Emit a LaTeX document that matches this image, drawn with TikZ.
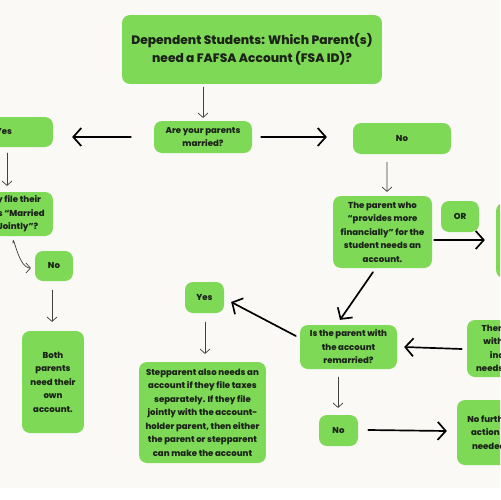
\documentclass[tikz,border=0pt]{standalone}
\usepackage{fontspec}
\setmainfont{Poppins}[BoldFont = {Poppins ExtraBold}]
\usetikzlibrary{arrows.meta,calc,positioning}
\definecolor{boxgreen}{HTML}{7ED957}
\definecolor{paper}{HTML}{FAF9F6}
\definecolor{ink}{HTML}{1C2418}

\begin{document}
\begin{tikzpicture}[x = 0.05cm, y = -0.05cm, line cap = round]
    \tikzstyle{block} = [fill = boxgreen, rounded corners = 0.4cm, align = center, inner sep = 0pt, text = ink, font = \bfseries\fontsize{12.2}{19.2}\selectfont]
    \tikzstyle{headline} = [block, font = \bfseries\fontsize{17.4}{25.5}\selectfont]
    \tikzstyle{lightarrow} = [draw = black!75, line width = 1pt, -{Straight Barb[length = 0.22cm, width = 0.5cm]}]
    \tikzstyle{heavyarrow} = [draw = black, line width = 2.4pt, -{Straight Barb[length = 0.4cm, width = 0.9cm]}]

    \useasboundingbox (0,0) rectangle (500,500);
    \clip (0,0) rectangle (500,500);
    \fill[white] (0,0) rectangle (500,500);
    \fill[paper] (0,0) rectangle (500,488);

    \node[headline, minimum width = 13cm, minimum height = 3.45cm] (question) at (252,49.5) {Dependent Students: Which Parent(s)\\need a FAFSA Account (FSA ID)?};
    \node[block, minimum width = 4.9cm, minimum height = 1.6cm] (married) at (203,137) {Are your parents\\married?};
    \node[block, minimum width = 4.9cm, minimum height = 1.5cm] (yes) at (4,132) {Yes};
    \node[block, minimum width = 4.9cm, minimum height = 1.55cm] (no) at (402,138.5) {No};
    \node[block, minimum width = 4.8cm, minimum height = 2.2cm] (jointly) at (5,214) {Do they file their\\taxes as “Married\\Filing Jointly”?};
    \node[block, minimum width = 1.9cm, minimum height = 1.5cm] (nojoint) at (54,266) {No};
    \node[block, minimum width = 3.1cm, minimum height = 5.1cm] (both) at (53,382) {Both\\parents\\need their\\own\\account.};
    \node[block, minimum width = 4.95cm, minimum height = 3.6cm] (provider) at (382.5,232) {The parent who\\“provides more\\financially” for the\\student needs an\\account.};
    \node[block, minimum width = 1.9cm, minimum height = 1.55cm] (or) at (460,216.5) {OR};
    \node[block, minimum width = 5cm, minimum height = 3.75cm] (income) at (546,240.5) {The parent with\\the higher\\income needs\\an account.};
    \node[block, minimum width = 4.85cm, minimum height = 2.2cm] (remarried) at (348.5,347) {Is the parent with\\the account\\remarried?};
    \node[block, minimum width = 5cm, minimum height = 2.85cm] (then) at (517,348.5) {Then the parent\\with the higher\\income also\\needs an account.};
    \node[block, minimum width = 1.95cm, minimum height = 1.55cm] (yesstep) at (204.5,297.5) {Yes};
    \node[block, minimum width = 6.35cm, minimum height = 5.05cm] (stepparent) at (202.5,412.5) {Stepparent also needs an\\account if they file taxes\\separately. If they file\\jointly with the account-\\holder parent, then either\\the parent or stepparent\\can make the account};
    \node[block, minimum width = 1.95cm, minimum height = 1.55cm] (nostep) at (338.5,430.5) {No};
    \node[block, minimum width = 3.3cm, minimum height = 3.25cm] (done) at (490,432.5) {No further\\action is\\needed.};

    \draw[lightarrow, shorten <= 0.15cm, shorten >= 0.15cm] (question.south -| married.north) -- (married.north);
    \draw[heavyarrow, shorten <= 1.15cm, shorten >= 0.95cm] (married.west) -- (yes.east |- married.west);
    \draw[heavyarrow, shorten <= 0.45cm, shorten >= 1.3cm] (married.east) -- (no.west |- married.east);
    \draw[lightarrow] ($(yes.south)+(3,6)$) -- ($(jointly.north)+(2,-6)$);
    \draw[lightarrow] ($(jointly.south)+(8,7)$) to[out = 90, in = 180, looseness = 1.1] ($(nojoint.west)+(-4,2)$);
    \draw[lightarrow] ($(nojoint.south)+(-2,9)$) -- ($(both.north)+(-1,-9)$);
    \draw[lightarrow] ($(no.south)+(-15,8)$) -- ($(provider.north)+(4.5,-4)$);
    \draw[heavyarrow] ($(provider.east)+(2,8)$) -- ($(income.west)+(-11,-0.5)$);
    \draw[heavyarrow] ($(provider.south)+(-9.5,4)$) -- ($(remarried.north)+(-8.5,-5)$);
    \draw[heavyarrow] ($(remarried.west)+(-4,-11)$) -- ($(yesstep.east)+(7,4.5)$);
    \draw[lightarrow] ($(yesstep.south)+(0.5,9)$) -- ($(stepparent.north)+(2.5,-8)$);
    \draw[heavyarrow] ($(then.west)+(-5,0.5)$) -- ($(remarried.east)+(7,0)$);
    \draw[lightarrow] ($(remarried.south)+(-10.5,8)$) -- ($(nostep.north)+(-0.5,-7)$);
    \draw[heavyarrow] ($(nostep.east)+(10,-0.5)$) -- ($(done.west)+(-10,-1.5)$);
\end{tikzpicture}
\end{document}
